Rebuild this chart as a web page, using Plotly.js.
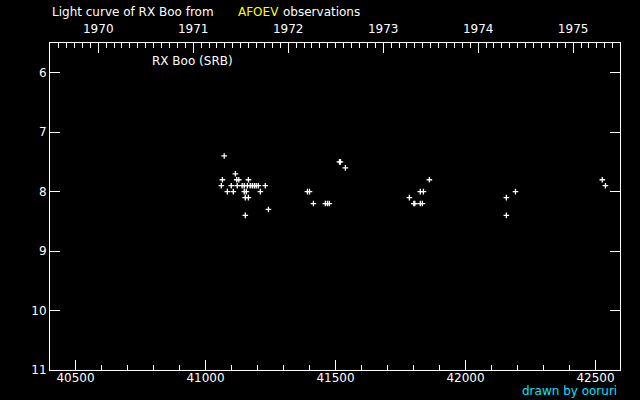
<!DOCTYPE html>
<html>
<head>
<meta charset="utf-8">
<script src="https://cdn.plot.ly/plotly-3.0.1.min.js"></script>
<style>html,body{margin:0;padding:0;background:#000;}#chart{width:640px;height:400px;}</style>
</head>
<body>
<div id="chart"></div>
<script>
// Julian Date - 2400000
const jd = [41072,41115,41065,41120,41128,41165,41061,41099,41122,41141,41149,41161,41172,41180,41188,41195,41203,41230,41084,41107,41149,41157,41211,41153,41165,41242,41153,
            41392,41400,41415,41461,41469,41476,41515,41519,41538,
            41784,41801,41805,41826,41838,41826,41834,41861,
            42157,42157,42192,42526,42538];
const mag = [7.4,7.7,7.8,7.8,7.8,7.8,7.9,7.9,7.9,7.9,7.9,7.9,7.9,7.9,7.9,7.9,7.9,7.9,8.0,8.0,8.0,8.0,8.0,8.1,8.1,8.3,8.4,
             8.0,8.0,8.2,8.2,8.2,8.2,7.5,7.5,7.6,
             8.1,8.2,8.2,8.0,8.0,8.2,8.2,7.8,
             8.1,8.4,8.0,7.8,7.9];
const jdRange = [40402, 42594];
const magRange = [11, 5.5];
const yearTicks = [1970,1971,1972,1973,1974,1975];
const jdTicks = [40500,41000,41500,42000,42500];
const magTicks = [6,7,8,9,10,11];

const JD1970 = 40587.5;
const toYear = j => 1970 + (j - JD1970) / 365.25;

const font = {family: 'DejaVu Sans', size: 12, color: '#ffffff'};
const L = 50, R = 20, T = 43, B = 30, W = 640, H = 400;
const px = x => (x - L) / (W - L - R);
const py = y => 1 - (y - T) / (H - T - B);

const trace = {
  x: jd, y: mag, type: 'scatter', mode: 'markers',
  marker: {symbol: 'cross-thin', size: 4, color: '#ffffff', line: {color: '#ffffff', width: 1.3}},
  hoverinfo: 'skip', showlegend: false
};
const dummy = {x: jdRange.map(toYear), y: [20, 20], xaxis: 'x2', yaxis: 'y', mode: 'markers', marker: {opacity: 0}, showlegend: false, hoverinfo: 'skip'};

const layout = {
  width: W, height: H,
  paper_bgcolor: '#000000', plot_bgcolor: '#000000',
  margin: {l: L, r: R, t: T, b: B, pad: 0},
  font: font,
  showlegend: false,
  xaxis: {
    range: jdRange, tickvals: jdTicks, tickformat: 'd',
    ticks: 'inside', ticklen: 10, tickwidth: 1, tickcolor: '#ffffff',
    minor: {dtick: 100, tick0: 40400, ticks: 'inside', ticklen: 5, tickcolor: '#ffffff', tickwidth: 1, showgrid: false},
    showline: true, linecolor: '#ffffff', linewidth: 1, mirror: false,
    showgrid: false, zeroline: false, tickfont: font, ticklabelstandoff: -3
  },
  xaxis2: {
    overlaying: 'x', side: 'top', anchor: 'y',
    range: jdRange.map(toYear), tickvals: yearTicks, tickformat: 'd',
    ticks: 'inside', ticklen: 10, tickwidth: 1, tickcolor: '#ffffff',
    minor: {dtick: 1/12, tick0: 1970, ticks: 'inside', ticklen: 5, tickcolor: '#ffffff', tickwidth: 1, showgrid: false},
    showline: true, linecolor: '#ffffff', linewidth: 1,
    showgrid: false, zeroline: false, tickfont: font, ticklabelstandoff: 4
  },
  yaxis: {
    range: magRange, tickvals: magTicks,
    ticks: 'inside', ticklen: 10, tickwidth: 1, tickcolor: '#ffffff',
    showline: true, linecolor: '#ffffff', linewidth: 1, mirror: 'ticks',
    showgrid: false, zeroline: false, tickfont: font
  },
  annotations: [
    {text: 'Light curve of RX Boo from', xref: 'paper', yref: 'paper', x: px(50), y: py(12), xanchor: 'left', yanchor: 'middle', showarrow: false, font: {family: 'DejaVu Sans', size: 12, color: '#ffffff'}},
    {text: 'AFOEV', xref: 'paper', yref: 'paper', x: px(236), y: py(12), xanchor: 'left', yanchor: 'middle', showarrow: false, font: {family: 'DejaVu Sans', size: 12, color: '#ffff00'}},
    {text: 'observations', xref: 'paper', yref: 'paper', x: px(281), y: py(12), xanchor: 'left', yanchor: 'middle', showarrow: false, font: {family: 'DejaVu Sans', size: 12, color: '#ffffff'}},
    {text: 'RX Boo (SRB)', xref: 'paper', yref: 'paper', x: px(150), y: py(61), xanchor: 'left', yanchor: 'middle', showarrow: false, font: {family: 'DejaVu Sans', size: 12, color: '#ffffff'}},
    {text: 'drawn by ooruri', xref: 'paper', yref: 'paper', x: px(619), y: py(391), xanchor: 'right', yanchor: 'middle', showarrow: false, font: {family: 'DejaVu Sans', size: 12, color: '#00e5ff'}}
  ]
};

Plotly.newPlot('chart', [trace, dummy], layout, {staticPlot: true, displayModeBar: false});
</script>
</body>
</html>
